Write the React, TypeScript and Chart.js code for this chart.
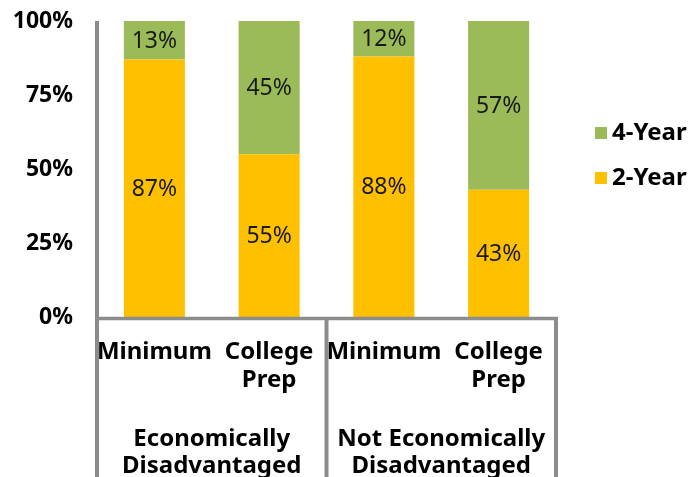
import React, { useEffect, useRef } from "react";
import { Chart, registerables } from "chart.js";

Chart.register(...registerables);

const categories: (string | string[])[] = ["Minimum", ["College", "Prep"], "Minimum", ["College", "Prep"]];
const groups: string[][] = [["Economically", "Disadvantaged"], ["Not Economically", "Disadvantaged"]];
const twoYear: number[] = [87, 55, 88, 43];
const fourYear: number[] = [13, 45, 12, 57];
const yTicks: number[] = [0, 25, 50, 75, 100];

const ORANGE = "#FFC000";
const GREEN = "#9BBB59";
const LINE = "#8c8c8c";
const FONT = "'Noto Sans', sans-serif";

const overlayPlugin = {
  id: "overlay",
  afterDatasetsDraw(chart: any) {
    const ctx = chart.ctx;
    ctx.save();
    ctx.font = `23px ${FONT}`;
    ctx.fillStyle = "#1a1a1a";
    ctx.textAlign = "center";
    ctx.textBaseline = "middle";
    chart.data.datasets.forEach((ds: any, di: number) => {
      const meta = chart.getDatasetMeta(di);
      meta.data.forEach((bar: any, i: number) => {
        const top = Math.min(bar.y, bar.base);
        const bottom = Math.max(bar.y, bar.base);
        ctx.fillText(ds.data[i] + "%", bar.x, (top + bottom) / 2 + 1);
      });
    });
    ctx.restore();
  },
  afterDraw(chart: any) {
    const ctx = chart.ctx;
    const area = chart.chartArea;
    const xs = chart.scales.x;
    const H = chart.height;
    ctx.save();
    ctx.strokeStyle = LINE;
    ctx.lineWidth = 4;
    ctx.beginPath();
    ctx.moveTo(area.left, area.top);
    ctx.lineTo(area.left, H);
    ctx.stroke();
    const mid = (xs.getPixelForValue(1) + xs.getPixelForValue(2)) / 2;
    ctx.beginPath();
    ctx.moveTo(mid, area.bottom);
    ctx.lineTo(mid, H);
    ctx.moveTo(area.right, area.bottom);
    ctx.lineTo(area.right, H);
    ctx.stroke();
    ctx.lineWidth = 3.5;
    ctx.beginPath();
    ctx.moveTo(area.left - 2, area.bottom + 1.5);
    ctx.lineTo(area.right + 2, area.bottom + 1.5);
    ctx.stroke();

    ctx.fillStyle = "#000";
    ctx.font = `bold 24px ${FONT}`;
    ctx.textAlign = "center";
    ctx.textBaseline = "middle";
    const centers = [(area.left + mid) / 2, (mid + area.right) / 2];
    groups.forEach((g, gi) => {
      g.forEach((line, li) => {
        ctx.fillText(line, centers[gi], area.bottom + 122 + li * 27);
      });
    });

    const legendItems = [
      { label: chart.data.datasets[1].label, color: GREEN, y: 133 },
      { label: chart.data.datasets[0].label, color: ORANGE, y: 178 },
    ];
    ctx.textAlign = "left";
    legendItems.forEach((it) => {
      ctx.fillStyle = it.color;
      ctx.fillRect(595, it.y - 6, 12, 12);
      ctx.fillStyle = "#000";
      ctx.fillText(it.label, 612, it.y);
    });
    ctx.restore();
  },
};

export default function App() {
  const ref = useRef<HTMLCanvasElement>(null);
  useEffect(() => {
    document.body.style.margin = "0";
    const chart = new Chart(ref.current!, {
      type: "bar",
      data: {
        labels: categories,
        datasets: [
          { label: "2-Year", data: twoYear, backgroundColor: ORANGE, barPercentage: 0.532, categoryPercentage: 1 },
          { label: "4-Year", data: fourYear, backgroundColor: GREEN, barPercentage: 0.532, categoryPercentage: 1 },
        ],
      },
      options: {
        animation: false,
        responsive: false,
        layout: { padding: { top: 21, right: 139, bottom: 0, left: 0 } },
        plugins: { legend: { display: false }, tooltip: { enabled: false } },
        scales: {
          x: {
            stacked: true,
            grid: { display: false, drawTicks: false },
            border: { display: false },
            ticks: {
              color: "#000",
              font: { family: FONT, size: 24, weight: "bold", lineHeight: 1.17 },
              padding: 21,
              maxRotation: 0,
              autoSkip: false,
            },
            afterFit: (s: any) => { s.height = 160; s.paddingLeft = 0; s.paddingRight = 0; },
          },
          y: {
            stacked: true,
            min: 0,
            max: 100,
            grid: { display: false, drawTicks: false },
            border: { display: false },
            afterBuildTicks: (s: any) => { s.ticks = yTicks.map((v) => ({ value: v })); },
            ticks: {
              color: "#000",
              font: { family: FONT, size: 23, weight: "bold" },
              padding: 24,
              callback: (v: any) => v + "%",
            },
            afterFit: (s: any) => { s.width = 97; s.paddingTop = 0; s.paddingBottom = 0; },
          },
        },
      },
      plugins: [overlayPlugin],
    });
    return () => chart.destroy();
  }, []);
  return (
    <div style={{ position: "absolute", left: 0, top: 0, width: 695, height: 477 }}>
      <canvas ref={ref} width={695} height={477} style={{ width: 695, height: 477 }} />
    </div>
  );
}
